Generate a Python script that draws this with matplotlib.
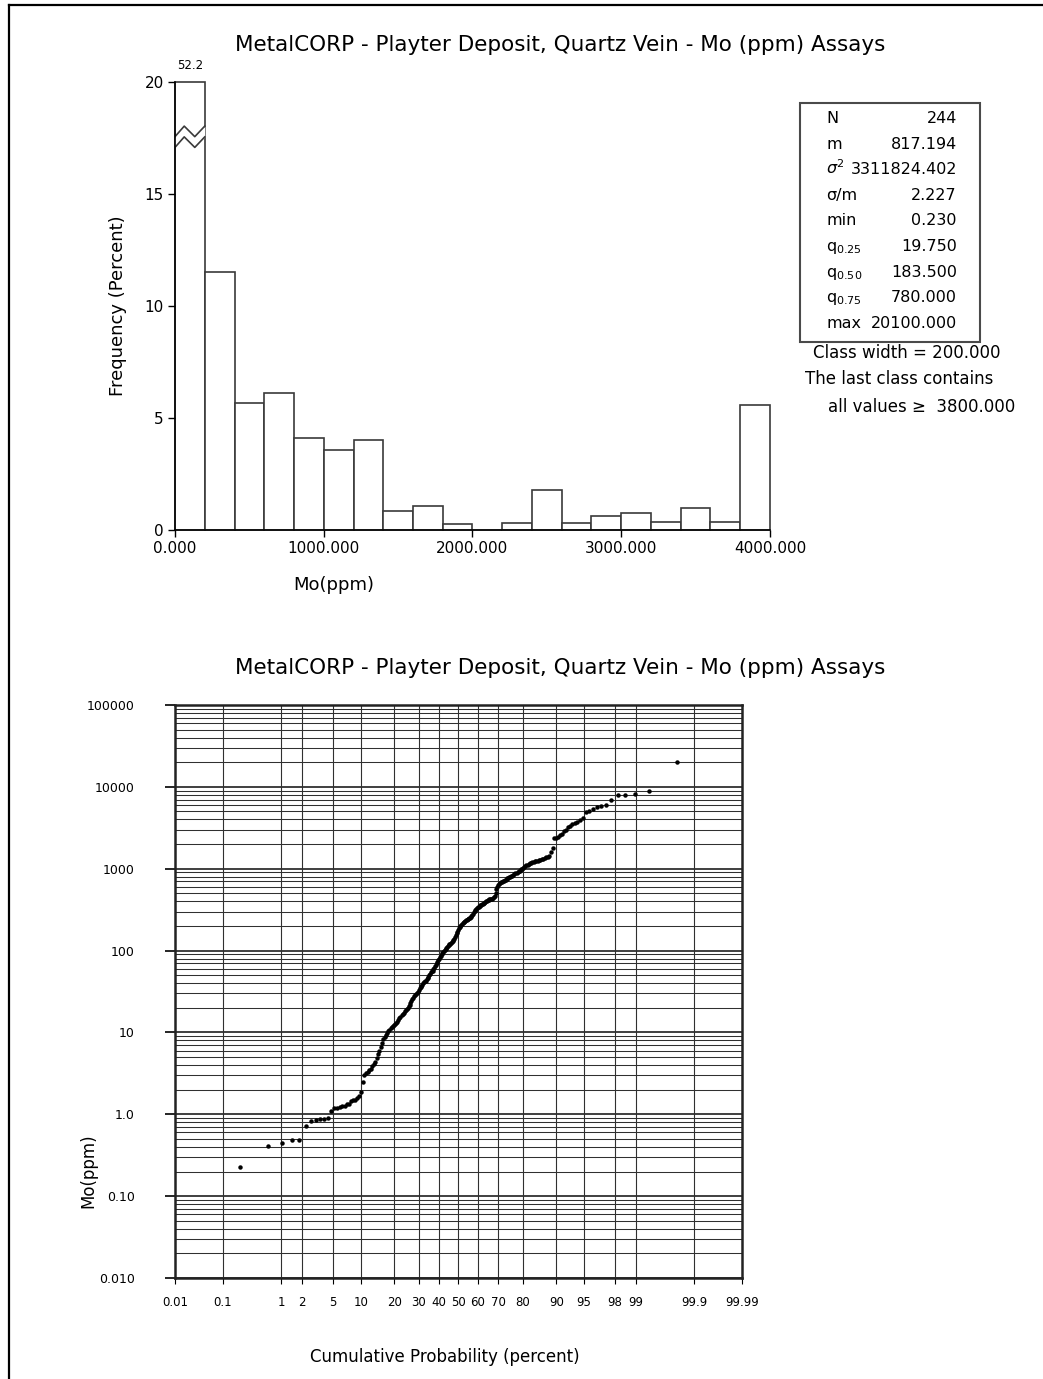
import numpy as np
import matplotlib.pyplot as plt
from matplotlib.lines import Line2D
from matplotlib.patches import Rectangle
from statistics import NormalDist

plt.rcParams['font.family'] = ['DejaVu Sans']

title = 'MetalCORP - Playter Deposit, Quartz Vein - Mo (ppm) Assays'

# histogram: percent of samples per 200 ppm class, last class is open ended
class_width = 200.0
hist_pct = [52.2, 11.5, 5.66, 6.13, 4.12, 3.56, 4.03, 0.85, 1.07, 0.28,
            0.0, 0.33, 1.77, 0.33, 0.64, 0.77, 0.36, 1.0, 0.36, 5.6]
hist_cut = 20  # y axis is broken above this

stats_labels = ['N', 'm', r'$\sigma^2$', 'σ/m', 'min',
                r'q$_{0.25}$', r'q$_{0.50}$', r'q$_{0.75}$', 'max']
stats_values = ['244', '817.194', '3311824.402', '2.227', '0.230',
                '19.750', '183.500', '780.000', '20100.000']

# Mo assays (ppm), sorted
mo_ppm = [
    0.23, 0.41, 0.45, 0.48, 0.49, 0.72, 0.83, 0.86, 0.875, 0.885,
    0.89, 1.09, 1.18, 1.21, 1.23, 1.25, 1.28, 1.32, 1.35, 1.45,
    1.49, 1.51, 1.58, 1.65, 1.87, 2.48, 3.0, 3.15, 3.3, 3.45,
    3.6, 3.85, 4.1, 4.4, 4.9, 5.5, 6.0, 6.6, 7.5, 8.2,
    8.8, 9.3, 9.8, 10.3, 10.6, 11.2, 11.8, 12.1, 12.4, 12.7,
    13.0, 13.4, 14.2, 14.8, 15.5, 16.2, 16.9, 17.5, 18.2, 18.8,
    19.5, 20.0, 21.0, 21.8, 23.0, 24.5, 25.5, 26.5, 27.5, 28.5,
    29.5, 30.5, 31.5, 33, 34.5, 35.5, 37, 38.5, 40, 41,
    42, 43, 44.5, 46, 48, 50, 52, 54, 56, 57,
    59, 61, 64, 67, 70, 73, 76, 80, 84, 87,
    90, 93, 96, 99, 102, 105, 108, 111, 113, 116,
    119, 122, 125, 128, 131, 134, 137, 145, 155, 162,
    168, 178, 189, 195, 202, 208, 213, 218, 222, 226,
    230, 234, 238, 242, 246, 250, 253, 256, 262, 270,
    280, 292, 305, 315, 322, 330, 338, 345, 352, 358,
    362, 366, 372, 378, 385, 392, 398, 405, 412, 418,
    421, 424, 426, 429, 435, 445, 458, 500, 560, 600,
    625, 645, 660, 680, 695, 705, 715, 725, 738, 750,
    762, 775, 785, 795, 805, 818, 835, 855, 875, 895,
    912, 930, 950, 985, 1005, 1030, 1060, 1080, 1100, 1120,
    1140, 1160, 1180, 1195, 1210, 1225, 1240, 1255, 1270, 1290,
    1310, 1330, 1350, 1375, 1400, 1450, 1600, 1790, 2350, 2400,
    2450, 2550, 2650, 2850, 3000, 3200, 3350, 3500, 3650, 3750,
    3950, 4150, 4900, 5100, 5360, 5680, 5800, 5940, 6970, 7900,
    7950, 8180, 8980, 20100,
]

prob_ticks = [0.01, 0.1, 1, 2, 5, 10, 20, 30, 40, 50, 60, 70, 80,
              90, 95, 98, 99, 99.9, 99.99]
prob_ticklabels = ['0.01', '0.1', '1', '2', '5', '10', '20', '30', '40', '50',
                   '60', '70', '80', '90', '95', '98', '99', '99.9', '99.99']
ppm_decades = [0.01, 0.1, 1, 10, 100, 1000, 10000, 100000]
ppm_labels = ['0.010', '0.10', '1.0', '10', '100', '1000', '10000', '100000']

W, H = 1043, 1379


def box(x0, y0, x1, y1):
    """pixel box (top-left origin) -> figure fraction rect"""
    return [x0 / W, 1 - y1 / H, (x1 - x0) / W, (y1 - y0) / H]


fig = plt.figure(figsize=(W / 100, H / 100), dpi=100)

# page frame
fig.add_artist(Line2D([9 / W, 9 / W], [0, 1 - 5 / H], color='black', lw=1.6))
fig.add_artist(Line2D([9 / W, 1], [1 - 5 / H, 1 - 5 / H], color='black', lw=1.6))

# ---- histogram ----
ax1 = fig.add_axes(box(175, 82, 770, 530))
edges = np.arange(len(hist_pct)) * class_width
shown = np.minimum(hist_pct, hist_cut)
ax1.bar(edges, shown, width=class_width, align='edge', facecolor='white',
        edgecolor='#3a3a3a', linewidth=1.2, clip_on=False)

# break marks on the first class
zx = np.array([0, 0.31, 0.665, 1.0]) * class_width
zy = np.array([0, 0.47, 0.0, 0.47])
lo, hi = 17.08, 17.56
ax1.fill_between(zx, lo + zy, hi + zy, color='white', lw=0, zorder=2)
ax1.plot(zx, lo + zy, color='#3a3a3a', lw=1.2, zorder=2.1)
ax1.plot(zx, hi + zy, color='#3a3a3a', lw=1.2, zorder=2.1)
ax1.text(class_width / 2, hist_cut + 0.45, f'{hist_pct[0]:.1f}',
         ha='center', va='bottom', fontsize=8.5)

ax1.set_xlim(0, 4000)
ax1.set_ylim(0, hist_cut)
ax1.set_xticks([0, 1000, 2000, 3000, 4000])
ax1.set_xticklabels([f'{v:.3f}' for v in [0, 1000, 2000, 3000, 4000]])
ax1.set_yticks([0, 5, 10, 15, 20])
ax1.tick_params(direction='out', length=5, width=1, labelsize=11, pad=3)
for s in ['top', 'right']:
    ax1.spines[s].set_visible(False)
for s in ['left', 'bottom']:
    ax1.spines[s].set_linewidth(1.1)
ax1.set_xlabel('Mo(ppm)', fontsize=13)
ax1.xaxis.set_label_coords(0.267, -0.123)
ax1.xaxis.label.set_va('center')
ax1.set_ylabel('Frequency (Percent)', fontsize=13)
ax1.yaxis.set_label_coords(-0.096, 0.5)
ax1.yaxis.label.set_va('center')

fig.text(560 / W, 1 - 45 / H, title, ha='center', va='center', fontsize=15.5)

# summary statistics box
fig.add_artist(Rectangle((800 / W, 1 - 342 / H), 180 / W, 239 / H,
                         transform=fig.transFigure, fill=False,
                         ec='#4a4a4a', lw=1.5))
for k, (lab, val) in enumerate(zip(stats_labels, stats_values)):
    yb = 1 - (123 + k * 25.6) / H
    fig.text(826 / W, yb, lab, ha='left', va='baseline', fontsize=11.5)
    fig.text(957 / W, yb, val, ha='right', va='baseline', fontsize=11.5)

fig.text(813 / W, 1 - 353 / H, f'Class width = {class_width:.3f}',
         ha='left', va='center', fontsize=12)
fig.text(805 / W, 1 - 379 / H, 'The last class contains',
         ha='left', va='center', fontsize=12)
fig.text(828 / W, 1 - 407 / H, f'all values \u2265  {edges[-1]:.3f}',
         ha='left', va='center', fontsize=12)

# ---- probability plot ----
nd = NormalDist()
ax2 = fig.add_axes(box(175, 705, 742, 1278))
ax2.set_yscale('log')
ax2.set_ylim(0.01, 100000)
ax2.set_xlim(nd.inv_cdf(0.0001), nd.inv_cdf(0.9999))

for p in prob_ticks[1:-1]:
    ax2.axvline(nd.inv_cdf(p / 100), color='#303030', lw=0.8, zorder=1)
for d in range(-2, 5):
    for m in range(1, 10):
        ax2.axhline(m * 10.0 ** d, color='#303030',
                    lw=1.3 if m == 1 else 0.75, zorder=1)

vals = np.sort(np.array(mo_ppm))
n = len(vals)
pp = (np.arange(1, n + 1) - 0.5) / n
zs = [nd.inv_cdf(p) for p in pp]
ax2.plot(zs, vals, 'o', ms=3.2, color='black', mec='none', zorder=3)

ax2.set_xticks([nd.inv_cdf(p / 100) for p in prob_ticks])
ax2.set_xticklabels(prob_ticklabels)
ax2.set_yticks(ppm_decades)
ax2.set_yticklabels(ppm_labels)
ax2.yaxis.set_minor_locator(plt.NullLocator())
ax2.tick_params(axis='x', direction='out', length=4, width=0.8,
                labelsize=8.5, pad=9)
ax2.tick_params(axis='y', direction='out', length=7, width=1.2,
                labelsize=9, pad=22)
for s in ax2.spines.values():
    s.set_linewidth(1.8)
    s.set_color('#222222')

ax2.set_xlabel('Cumulative Probability (percent)', fontsize=12)
ax2.xaxis.set_label_coords(0.476, -0.138)
ax2.xaxis.label.set_va('center')
ax2.set_ylabel('Mo(ppm)', fontsize=12)
ax2.yaxis.set_label_coords(-0.153, 0.188)
ax2.yaxis.label.set_va('center')

fig.text(560 / W, 1 - 668 / H, title, ha='center', va='center', fontsize=15.5)

fig.savefig('out.png', dpi=100)
